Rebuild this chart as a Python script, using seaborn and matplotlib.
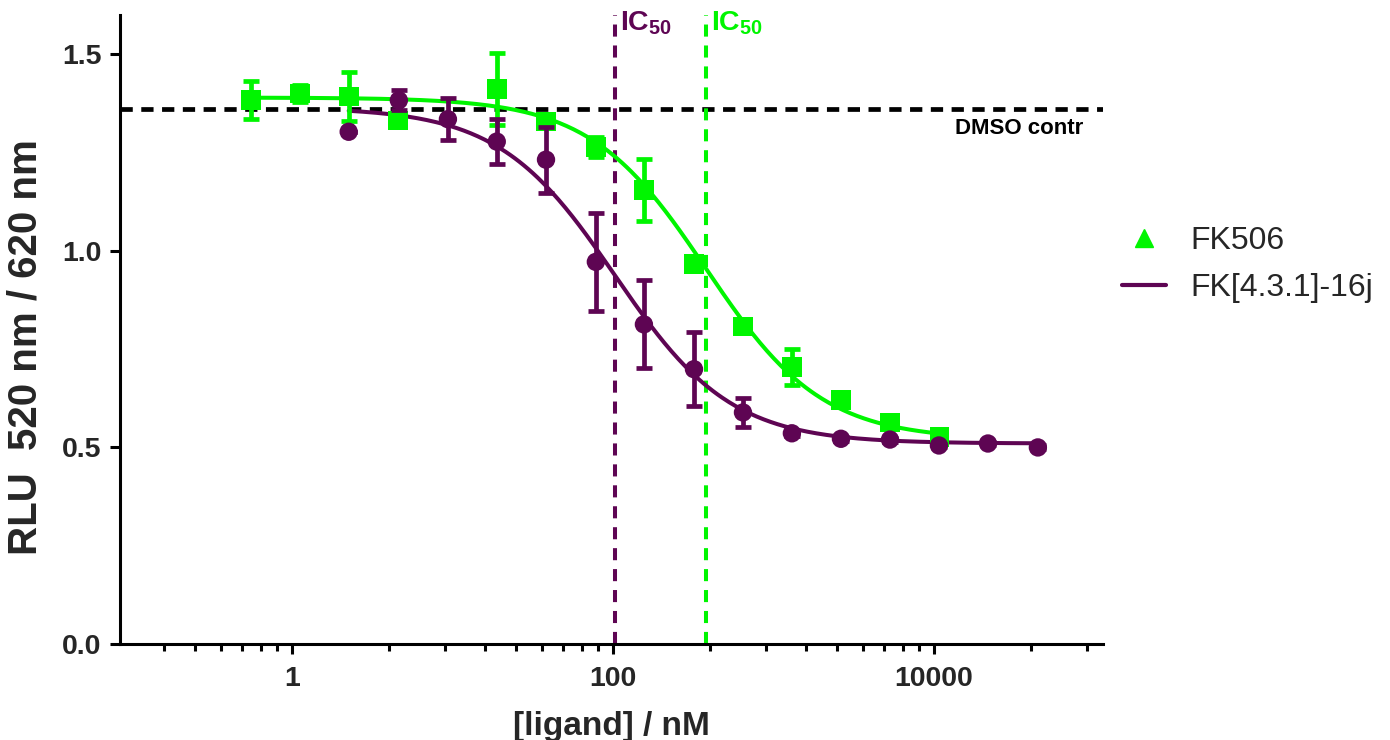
import numpy as np
import pandas as pd
import seaborn as sns
import matplotlib
matplotlib.use("Agg")
import matplotlib.pyplot as plt
from matplotlib.ticker import FixedLocator, NullFormatter, FixedFormatter
from matplotlib.lines import Line2D
from matplotlib.transforms import blended_transform_factory

# ---------------- data ----------------
fk506_conc = [0.556, 1.12, 2.26, 4.57, 18.9, 38.3, 78.3, 156, 320, 646, 1303, 2634, 5321, 10850]
fk506_rlu = [1.383, 1.400, 1.393, 1.332, 1.412, 1.329, 1.265, 1.155, 0.967, 0.808, 0.704, 0.620, 0.563, 0.527]
fk506_err = [0.048, 0.022, 0.062, 0.010, 0.092, 0.008, 0.025, 0.079, 0.018, 0.018, 0.046, 0.012, 0.015, 0.008]

fk16j_conc = [2.26, 4.64, 9.38, 18.9, 38.3, 78.3, 156, 320, 646, 1303, 2634, 5321, 10740, 21700, 44400]
fk16j_rlu = [1.303, 1.383, 1.335, 1.278, 1.232, 0.972, 0.813, 0.699, 0.589, 0.536, 0.522, 0.520, 0.505, 0.510, 0.500]
fk16j_err = [0.0, 0.025, 0.053, 0.058, 0.084, 0.124, 0.112, 0.094, 0.037, 0.006, 0.005, 0.005, 0.005, 0.005, 0.005]

# 4-parameter logistic fit parameters (top, bottom, IC50, hill)
fk506_fit = [1.39, 0.52, 380.0, 1.2]
fk16j_fit = [1.365, 0.51, 103.0, 1.2]

dmso_control = 1.36
series_names = ["FK506", "FK[4.3.1]-16j"]

x_major = [1, 100, 10000]
x_major_labels = ["1", "100", "10000"]
y_ticks = [0.0, 0.5, 1.0, 1.5]
y_tick_labels = ["0.0", "0.5", "1.0", "1.5"]

GREEN = "#00F500"
PURPLE = "#5E0553"


def logistic(x, p):
    top, bottom, ic50, hill = p
    x = np.asarray(x, dtype=float)
    return bottom + (top - bottom) / (1.0 + (x / ic50) ** hill)


sns.set_theme(style="ticks")
plt.rcParams["font.family"] = ["Liberation Sans", "DejaVu Sans"]
plt.rcParams["mathtext.fontset"] = "custom"
plt.rcParams["mathtext.rm"] = "Liberation Sans"
plt.rcParams["mathtext.bf"] = "Liberation Sans:bold"

fig = plt.figure(figsize=(13.9, 7.4), dpi=100)
ax = fig.add_axes([120 / 1390, 1 - 644 / 740, (1103 - 120) / 1390, (644 - 15) / 740])
ax.set_xscale("log")

# fitted curves
for conc, fit, col in [(fk506_conc, fk506_fit, GREEN), (fk16j_conc, fk16j_fit, PURPLE)]:
    xs = np.logspace(np.log10(min(conc)), np.log10(max(conc)), 300)
    cdf = pd.DataFrame({"conc": xs, "rlu": logistic(xs, fit)})
    sns.lineplot(data=cdf, x="conc", y="rlu", color=col, lw=2.9, ax=ax, zorder=3)

# reference lines
ax.axhline(dmso_control, color="black", lw=3.4, ls=(0, (2.6, 1.8)), zorder=2)
ax.axvline(fk16j_fit[2], color=PURPLE, lw=2.9, ls=(0, (3.0, 2.2)), zorder=2)
ax.axvline(fk506_fit[2], color=GREEN, lw=2.9, ls=(0, (3.0, 2.2)), zorder=2)

# error bars + markers
ax.errorbar(fk506_conc, fk506_rlu, yerr=fk506_err, fmt="none", ecolor=GREEN,
            elinewidth=3.4, capsize=6, capthick=3.4, zorder=4)
df506 = pd.DataFrame({"conc": fk506_conc, "rlu": fk506_rlu})
sns.scatterplot(data=df506, x="conc", y="rlu", marker="s", s=200, color=GREEN,
                edgecolor="none", ax=ax, zorder=5)

ax.errorbar(fk16j_conc, fk16j_rlu, yerr=fk16j_err, fmt="none", ecolor=PURPLE,
            elinewidth=3.4, capsize=6, capthick=3.4, zorder=6)
df16j = pd.DataFrame({"conc": fk16j_conc, "rlu": fk16j_rlu})
sns.scatterplot(data=df16j, x="conc", y="rlu", marker="o", s=175, color=PURPLE,
                edgecolor="none", ax=ax, zorder=7)

# axes
ax.set_xlim(0.085, 1.13e5)
ax.set_ylim(0, 1.6)
ax.xaxis.set_major_locator(FixedLocator(x_major))
ax.xaxis.set_major_formatter(FixedFormatter(x_major_labels))
minor = [b * k * k for b in [0.01, 1, 100, 10000] for k in range(2, 10) if b * k * k > 0.1]
ax.xaxis.set_minor_locator(FixedLocator(minor))
ax.xaxis.set_minor_formatter(NullFormatter())
ax.set_yticks(y_ticks)
ax.set_yticklabels(y_tick_labels)

for s in ["top", "right"]:
    ax.spines[s].set_visible(False)
for s in ["left", "bottom"]:
    ax.spines[s].set_linewidth(2.2)
    ax.spines[s].set_color("black")
ax.tick_params(axis="both", which="major", length=7.5, width=2.2, color="black",
               labelsize=20.5, pad=6)
ax.tick_params(axis="x", which="major", pad=8)
ax.tick_params(axis="x", which="minor", length=5, width=2.2, color="black")
for lab in ax.get_xticklabels() + ax.get_yticklabels():
    lab.set_fontweight("bold")

ax.set_xlabel("[ligand] / nM", fontsize=24, fontweight="bold", labelpad=14)
ax.set_ylabel("RLU  520 nm / 620 nm", fontsize=29, fontweight="bold")
ax.yaxis.set_label_coords(-0.077, 0.472)

# annotations
trans = blended_transform_factory(ax.transData, ax.transAxes)
ax.text(fk16j_fit[2] * 1.07, 1.008, r"$\mathbf{IC_{50}}$", transform=trans, color=PURPLE,
        fontsize=20.5, va="top", ha="left")
ax.text(fk506_fit[2] * 1.07, 1.008, r"$\mathbf{IC_{50}}$", transform=trans, color=GREEN,
        fontsize=20.5, va="top", ha="left")
ax.text(0.98, dmso_control - 0.022, "DMSO contr",
        transform=blended_transform_factory(ax.transAxes, ax.transData),
        fontsize=16, fontweight="bold", ha="right", va="top", color="black")

# legend
handles = [Line2D([], [], marker="^", ls="none", color=GREEN, markersize=13),
           Line2D([], [], color=PURPLE, lw=3.0)]
fig.legend(handles, series_names, loc="upper left", bbox_to_anchor=(1093 / 1390, 1 - 197 / 740),
           frameon=False, fontsize=23, handlelength=1.4, handletextpad=0.75, labelspacing=0.55)

fig.savefig("out.png", dpi=100)
